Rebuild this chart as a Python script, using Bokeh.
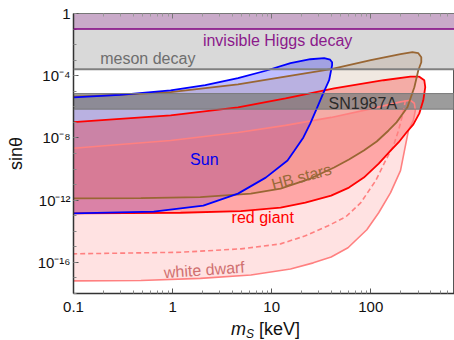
import numpy as np
from bokeh.plotting import figure
from bokeh.layouts import column
from bokeh.models import Range1d, FixedTicker, CustomJSTickFormatter, LogAxis, Span, Label, Div
from bokeh.embed import file_html
from bokeh.resources import INLINE

# ---------------- data (log10 m_S [keV], log10 sin theta) ----------------
X_MIN, X_MAX = 0.1, 700.0
Y_MIN, Y_MAX = 1e-18, 1.0

x_major = [0.1, 1, 10, 100]
y_major = [1e-16, 1e-12, 1e-8, 1e-4, 1]

# horizontal bands (sin theta)
higgs_band = (1e-1, 1.0)
meson_band = (2.6e-4, 1e-1)
sn_band = (7.1e-7, 7.1e-6)

# Sun
sun_lm = [-1.00, -0.53, -0.02, 0.33, 0.66, 0.94, 1.19, 1.39, 1.53, 1.59, 1.61,
          1.61, 1.58, 1.52, 1.46, 1.39, 1.32, 1.23, 1.16, 0.94, 0.66, 0.31, -0.19, -1.00]
sun_ls = [-5.39, -5.23, -4.94, -4.61, -4.16, -3.68, -3.19, -2.94, -2.87, -2.97, -3.13,
          -3.32, -4.29, -5.13, -6.03, -7.06, -7.97, -8.81, -9.45, -10.55, -11.58, -12.35, -12.74, -12.85]

# HB stars
hb_lm = [-1.00, -0.53, -0.02, 0.66, 1.09, 1.60, 2.00, 2.30, 2.42, 2.48, 2.51,
         2.51, 2.48, 2.44, 2.37, 2.26, 2.18, 2.06, 1.93, 1.78, 1.63, 1.39, 1.09, 0.79, 0.28, -0.32, -1.00]
hb_ls = [-5.35, -5.23, -5.06, -4.55, -4.10, -3.58, -3.00, -2.61, -2.48, -2.55, -2.81,
         -3.13, -3.65, -4.74, -6.03, -7.00, -7.52, -8.23, -8.81, -9.39, -9.90, -10.61, -11.26, -11.58, -11.81, -11.87, -11.88]

# red giant
rg_lm = [-1.00, -0.53, -0.02, 0.66, 1.14, 1.63, 2.13, 2.40, 2.49, 2.54, 2.55,
         2.53, 2.49, 2.43, 2.36, 2.28, 2.20, 2.08, 1.93, 1.78, 1.60, 1.34, 1.09, 0.69, 0.08, -1.00]
rg_ls = [-6.98, -6.77, -6.55, -6.03, -5.45, -4.81, -4.29, -4.06, -4.06, -4.29, -4.74,
         -5.58, -6.42, -7.13, -7.65, -8.29, -8.81, -9.65, -10.55, -11.19, -11.71, -12.16, -12.48, -12.71, -12.81, -12.85]

# white dwarf
wd_lm = [-1.00, -0.53, -0.02, 0.66, 1.14, 1.60, 2.00, 2.30, 2.40, 2.44, 2.45,
         2.43, 2.38, 2.34, 2.30, 2.20, 2.08, 1.96, 1.77, 1.60, 1.42, 1.19, 0.79, 0.28, -0.32, -1.00]
wd_ls = [-8.66, -8.42, -8.16, -7.65, -7.19, -6.68, -6.13, -5.68, -5.58, -5.77, -6.23,
         -6.87, -7.52, -8.81, -10.10, -11.52, -12.81, -13.90, -15.06, -15.65, -16.03, -16.42, -16.81, -17.03, -17.16, -17.19]

# white dwarf (dashed)
wdd_lm = [2.35, 2.32, 2.28, 2.23, 2.15, 2.05, 1.90, 1.75, 1.57, 1.34, 1.09, 0.69, 0.08, -1.00]
wdd_ls = [-5.58, -6.55, -7.52, -8.48, -9.45, -10.74, -12.16, -13.06, -13.65, -14.29, -14.81, -15.13, -15.35, -15.45]


def pts(lm, ls):
    return list(10.0 ** np.array(lm)), list(10.0 ** np.array(ls))


FONT = "Liberation Sans"

p = figure(width=454, height=322, x_axis_type="log", y_axis_type="log",
           x_range=Range1d(X_MIN, X_MAX), y_range=Range1d(Y_MIN, Y_MAX),
           output_backend="svg", toolbar_location=None,
           min_border_left=73, min_border_right=0, min_border_top=13, min_border_bottom=29)
p.grid.visible = False
p.background_fill_color = "white"
p.border_fill_color = "white"
p.outline_line_color = "#555555"

# bands (under)
p.quad(left=[X_MIN], right=[X_MAX], bottom=[higgs_band[0]], top=[higgs_band[1]],
       fill_color="#c9aac9", line_color=None)
p.quad(left=[X_MIN], right=[X_MAX], bottom=[meson_band[0]], top=[meson_band[1]],
       fill_color="#d9d9d9", line_color=None)

# region fills
sx, sy = pts(sun_lm, sun_ls)
hx, hy = pts(hb_lm, hb_ls)
rx, ry = pts(rg_lm, rg_ls)
wx, wy = pts(wd_lm, wd_ls)
dx, dy = pts(wdd_lm, wdd_ls)

p.patch(sx, sy, fill_color="#0000ff", fill_alpha=0.25, line_color=None)
p.patch(hx, hy, fill_color="#996633", fill_alpha=0.15, line_color=None)
p.patch(wx, wy, fill_color="#ff8080", fill_alpha=0.23, line_color=None)
p.patch(rx, ry, fill_color="#ff0000", fill_alpha=0.26, line_color=None)

# SN1987A band
p.quad(left=[X_MIN], right=[X_MAX], bottom=[sn_band[0]], top=[sn_band[1]],
       fill_color="#808080", fill_alpha=0.78, line_color=None)

# boundary lines
p.line(wx, wy, line_color="#ff8080", line_width=1.6)
p.line(dx, dy, line_color="#ff8080", line_width=1.6, line_dash="5 3")
p.line(rx, ry, line_color="#ff0000", line_width=1.8)
p.line(hx, hy, line_color="#996633", line_width=1.8)
p.line(sx, sy, line_color="#0000ff", line_width=1.8)

for loc, col, w in [(meson_band[0], "#808080", 2), (higgs_band[0], "#800080", 1.6),
                    (sn_band[0], "#7a7a7a", 1), (sn_band[1], "#7a7a7a", 1)]:
    p.add_layout(Span(location=loc, dimension="width", line_color=col, line_width=w))

# axes
x_minor = [m * 10.0 ** k for k in range(-1, 3) for m in range(2, 10) if m * 10.0 ** k < X_MAX]
y_minor = [10.0 ** k for k in range(-18, 1)]

xfmt = CustomJSTickFormatter(code="""
if (tick < 1) { return "0.1"; }
return Math.round(tick).toString();
""")
yfmt = CustomJSTickFormatter(code="""
const e = Math.round(Math.log10(tick));
if (e == 0) { return "1"; }
const sup = {"-":"\u207b","0":"\u2070","1":"\u00b9","2":"\u00b2","3":"\u00b3","4":"\u2074","5":"\u2075","6":"\u2076","7":"\u2077","8":"\u2078","9":"\u2079"};
return "10" + String(e).split("").map(c => sup[c]).join("");
""")

for ax, tk, mn, fmt in [(p.xaxis[0], x_major, x_minor, xfmt), (p.yaxis[0], y_major, y_minor, yfmt)]:
    ax.ticker = FixedTicker(ticks=tk, minor_ticks=mn)
    ax.formatter = fmt
    ax.major_tick_in = 5
    ax.major_tick_out = 0
    ax.minor_tick_in = 3
    ax.minor_tick_out = 0
    ax.axis_line_color = "#333333"
    ax.axis_line_width = 1.5
    ax.major_tick_line_color = "#555555"
    ax.minor_tick_line_color = "#888888"
    ax.major_label_text_font = FONT
    ax.major_label_text_font_size = "15px"
    ax.major_label_text_color = "#111111"

p.xaxis.major_label_standoff = 8
p.yaxis.major_label_standoff = 3

p.yaxis.axis_label = "sin\u03b8"
p.yaxis.axis_label_text_font = FONT
p.yaxis.axis_label_text_font_size = "18px"
p.yaxis.axis_label_text_font_style = "normal"
p.yaxis.axis_label_text_color = "#111111"
p.yaxis.axis_label_standoff = 9

top_ax = LogAxis(ticker=FixedTicker(ticks=x_major, minor_ticks=x_minor),
                 formatter=CustomJSTickFormatter(code="return '';"),
                 major_tick_in=5, major_tick_out=0, minor_tick_in=3, minor_tick_out=0,
                 major_label_standoff=0, axis_line_color="#777777",
                 major_tick_line_color="#777777", minor_tick_line_color="#999999",
                 major_label_text_font_size="1px")
p.add_layout(top_ax, "above")


def lab(text, lm, ls, color, size="16px", angle=0.0):
    p.add_layout(Label(x=10.0 ** lm, y=10.0 ** ls, text=text, text_color=color,
                       text_font=FONT, text_font_size=size, angle=angle,
                       text_align="center", text_baseline="middle"))


lab("invisible Higgs decay", 1.06, -1.71, "#8b1a8b")
lab("meson decay", -0.25, -2.90, "#6e6e6e")
lab("SN1987A", 1.92, -5.77, "#2a2a2a")
lab("Sun", 0.32, -9.39, "#0000ee")
lab("HB stars", 1.30, -10.50, "#9a6a3a", angle=0.26)
lab("red giant", 0.91, -13.13, "#ff0000")
lab("white dwarf", 0.32, -16.48, "#d07070", angle=0.07)

# x axis title (italic m with subscript S)
xtitle = Div(width=454, height=18, text=(
    "<div style='position:relative;width:454px;height:18px;overflow:visible'>"
    "<div style=\"position:absolute;left:226px;top:-8px;white-space:nowrap;"
    "font-family:'Liberation Sans';font-size:18px;color:#111111;line-height:20px\">"
    "<i>m</i><span style='font-size:12px;line-height:12px;position:relative;top:3px'><i>S</i></span>"
    " [keV]</div></div>"))

layout = column(p, xtitle, spacing=0)
open("out.html", "w").write(file_html(layout, INLINE))
